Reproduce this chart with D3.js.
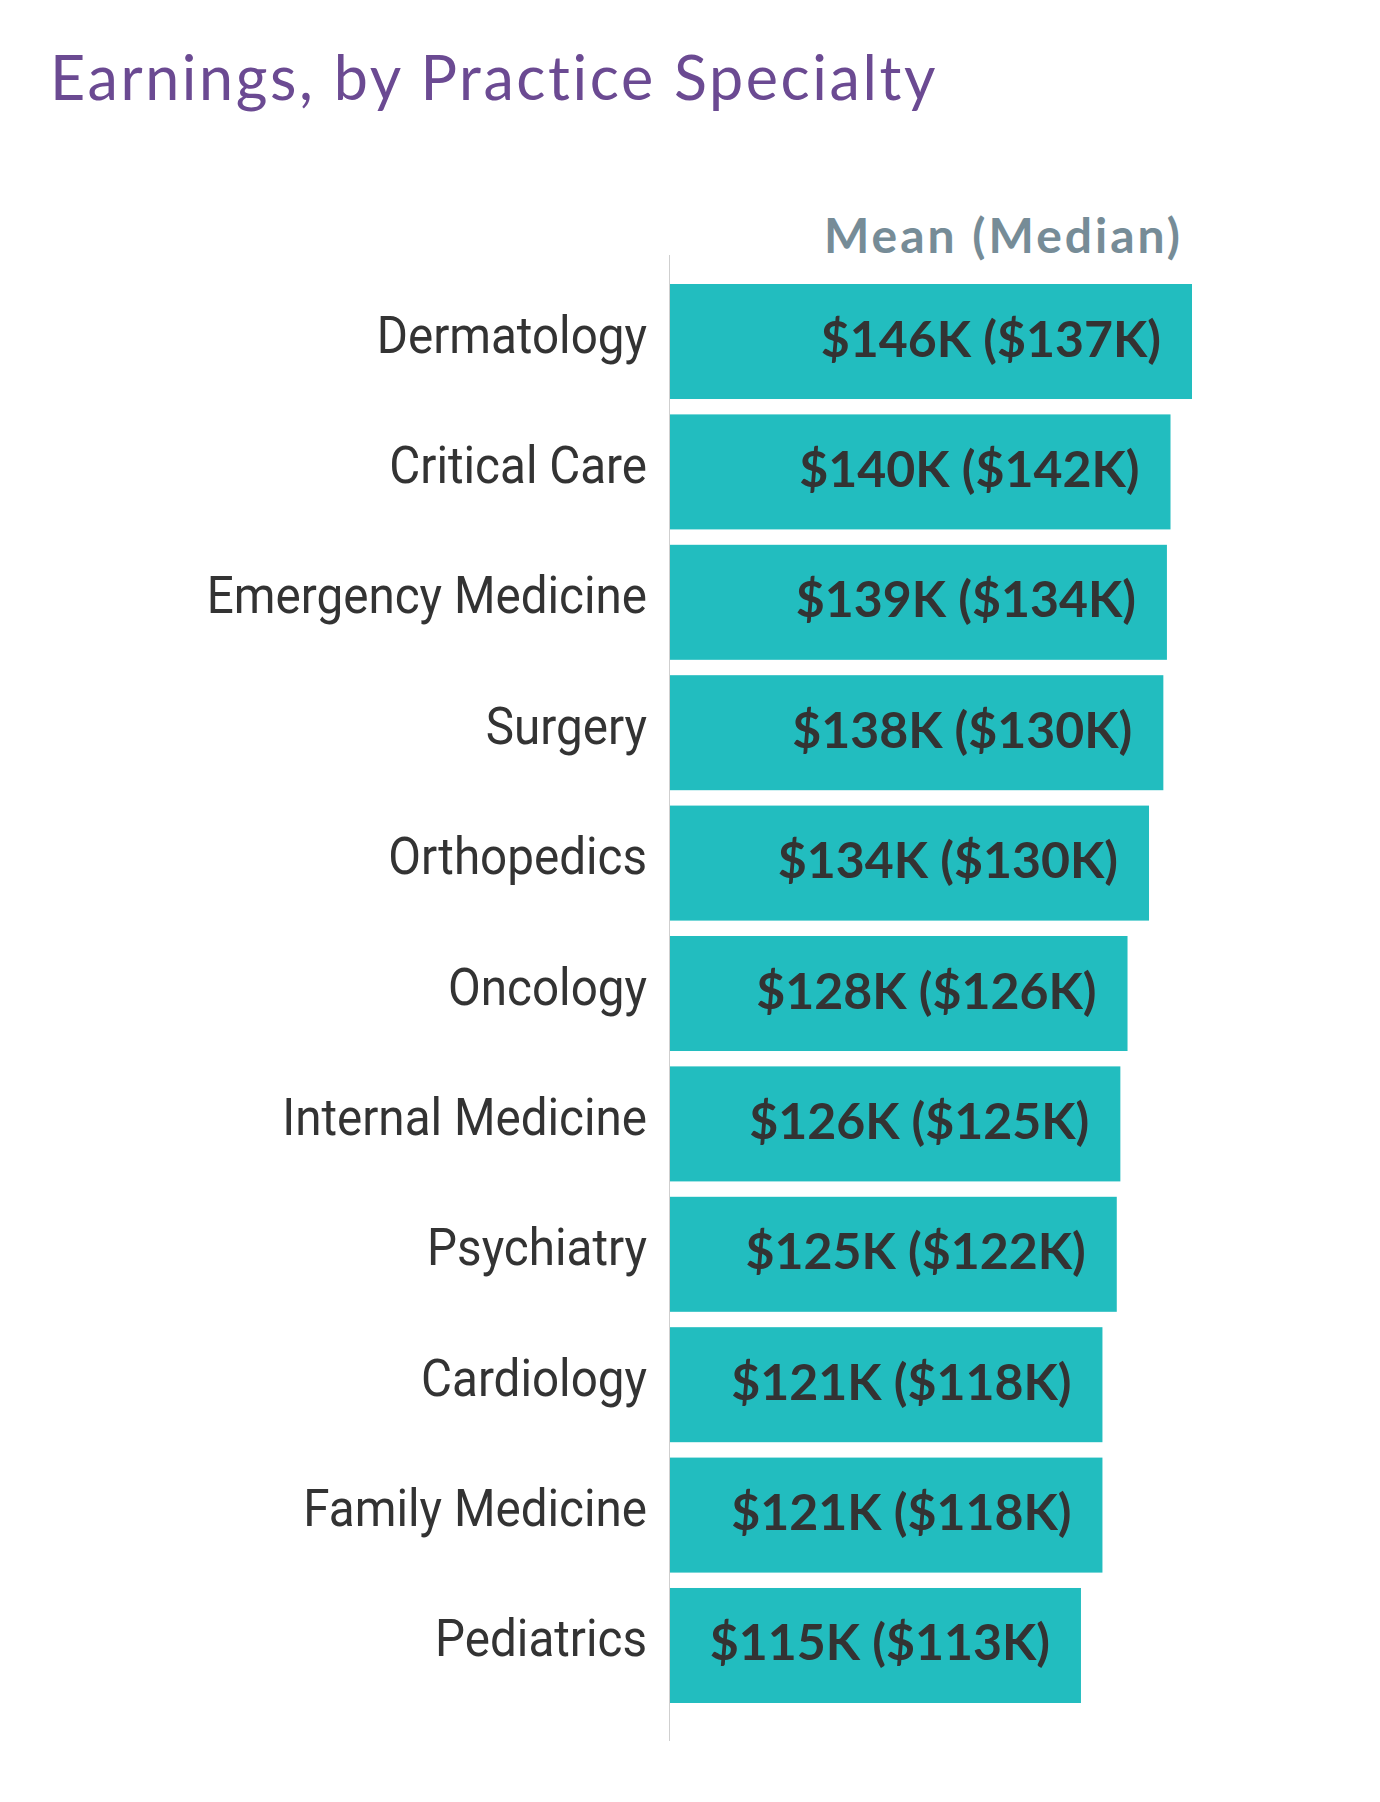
<!DOCTYPE html>
<html>
<head>
<meta charset="utf-8">
<script src="https://cdn.jsdelivr.net/npm/d3@7"></script>
<style>
  html, body { margin: 0; padding: 0; background: #fff; }
  svg { display: block; }
</style>
</head>
<body>
<svg id="chart" width="1380" height="1802"></svg>
<script>
const categories = ["Dermatology", "Critical Care", "Emergency Medicine", "Surgery", "Orthopedics",
  "Oncology", "Internal Medicine", "Psychiatry", "Cardiology", "Family Medicine", "Pediatrics"];
const meanK = [146, 140, 139, 138, 134, 128, 126, 125, 121, 121, 115];
const medianK = [137, 142, 134, 130, 130, 126, 125, 122, 118, 118, 113];
const titleText = "Earnings, by Practice Specialty";
const legendText = "Mean (Median)";

const data = categories.map((c, i) => ({ cat: c, mean: meanK[i], median: medianK[i] }));

const svg = d3.select("#chart");
const axisX = 669;

const x = d3.scaleLinear().domain([0, 146]).range([axisX, 1192]);
const y = d3.scaleBand().domain(categories).range([284, 1703]).paddingInner(0.118).paddingOuter(0);

// Title
svg.append("text")
  .attr("x", 50).attr("y", 100)
  .attr("font-family", "Lato, 'Open Sans', sans-serif")
  .attr("font-size", 61)
  .attr("letter-spacing", 2.6)
  .attr("fill", "#6b4a92")
  .text(titleText);

// Legend header
svg.append("text")
  .attr("x", 1183).attr("y", 253)
  .attr("text-anchor", "end")
  .attr("font-family", "Lato, 'Open Sans', sans-serif")
  .attr("font-weight", 700)
  .attr("font-size", 48)
  .attr("letter-spacing", 3)
  .attr("fill", "#768c97")
  .text(legendText);

// Bars
svg.append("g").selectAll("rect")
  .data(data).join("rect")
  .attr("x", x(0))
  .attr("y", d => y(d.cat))
  .attr("width", d => x(d.mean) - x(0))
  .attr("height", y.bandwidth())
  .attr("fill", "#22bdbf");

// Vertical axis line
svg.append("line")
  .attr("x1", axisX + 0.5).attr("x2", axisX + 0.5)
  .attr("y1", 255).attr("y2", 1741)
  .attr("stroke", "#cfcfcf").attr("stroke-width", 1);

// Category axis labels
const sx = 0.915;
const gAxis = svg.append("g")
  .attr("transform", `translate(${axisX},0)`)
  .call(d3.axisLeft(y).tickSize(0).tickPadding(0));
gAxis.select(".domain").remove();
gAxis.selectAll(".tick text")
  .attr("x", 0).attr("dy", null)
  .attr("y", 11)
  .attr("text-anchor", "end")
  .attr("transform", `translate(-22,0) scale(${sx},1)`)
  .attr("font-family", "Roboto, sans-serif")
  .attr("font-size", 52)
  .attr("fill", "#333333");

// Value labels
const fmt = v => "$" + v + "K";
svg.append("g").selectAll("text")
  .data(data).join("text")
  .attr("x", d => x(d.mean) - 31)
  .attr("y", d => y(d.cat) + y.bandwidth() / 2 + 15)
  .attr("text-anchor", "end")
  .attr("font-family", "Lato, 'Open Sans', sans-serif")
  .attr("font-weight", 700)
  .attr("font-size", 50)
  .attr("fill", "#333333")
  .text(d => `${fmt(d.mean)} (${fmt(d.median)})`);
</script>
</body>
</html>
